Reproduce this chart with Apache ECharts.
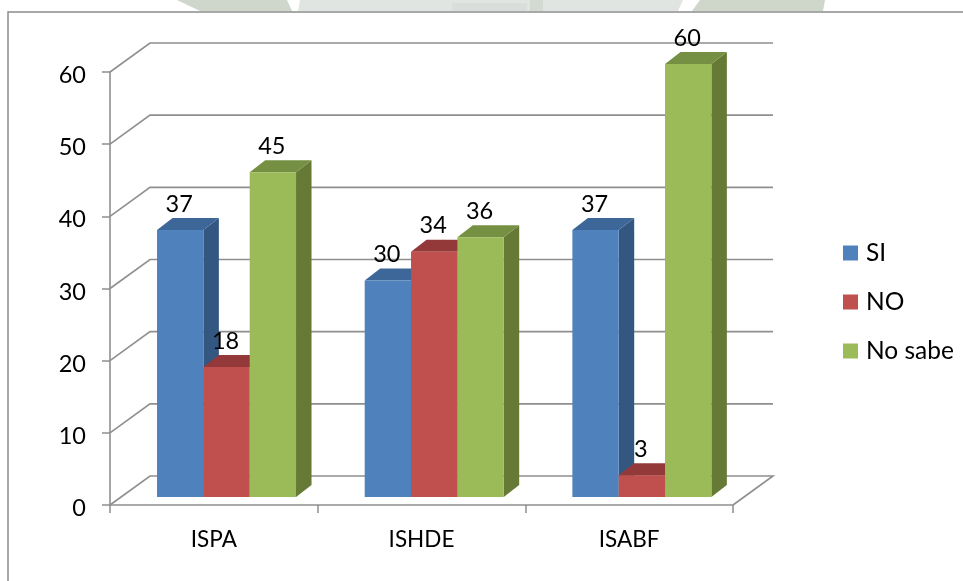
<!DOCTYPE html>
<html>
<head>
<meta charset="utf-8">
<style>html,body{margin:0;padding:0;background:#fff;}#c{width:963px;height:581px;}</style>
<script src="https://cdn.jsdelivr.net/npm/echarts@6/dist/echarts.min.js"></script>
</head>
<body>
<div id="c"></div>
<script>
var categories = ['ISPA', 'ISHDE', 'ISABF'];
var siValues = [37, 30, 37];
var noValues = [18, 34, 3];
var noSabeValues = [45, 36, 60];
var yTicks = [0, 10, 20, 30, 40, 50, 60];

var FONT = 'Lato, "Open Sans", sans-serif';
var GRID_COLOR = '#8f8f8f';
var WALL_DX = 40, WALL_DY = -29;
var PLANE_DX = 12.7, PLANE_DY = -8;
var BAR_DX = 15.5, BAR_DY = -12;
var BAR_RATIO = 46.33 / 207.67;

function barSeries(name, values, slot, front, top, side) {
  return {
    name: name,
    type: 'custom',
    coordinateSystem: 'cartesian2d',
    itemStyle: { color: front },
    encode: { x: 0, y: 1 },
    data: values.map(function (v, i) { return [i, v]; }),
    z: 5 + slot,
    renderItem: function (params, api) {
      var p = api.coord([api.value(0), api.value(1)]);
      var base = api.coord([api.value(0), 0]);
      var w = api.size([1, 0])[0] * BAR_RATIO;
      var x0 = p[0] + PLANE_DX + (slot - 1.5) * w;
      var x1 = x0 + w;
      var yT = p[1] + PLANE_DY, yB = base[1] + PLANE_DY;
      return {
        type: 'group',
        children: [
          { type: 'polygon', shape: { points: [[x1, yT], [x1 + BAR_DX, yT + BAR_DY], [x1 + BAR_DX, yB + BAR_DY], [x1, yB]] }, style: { fill: side } },
          { type: 'polygon', shape: { points: [[x0, yT], [x0 + BAR_DX, yT + BAR_DY], [x1 + BAR_DX, yT + BAR_DY], [x1, yT]] }, style: { fill: top } },
          { type: 'rect', shape: { x: x0, y: yT, width: w, height: yB - yT }, style: { fill: front } },
          { type: 'text', z2: 50, style: { text: String(api.value(1)), x: x0 + w / 2 - 1, y: yT - 26, fill: '#000', font: '23.5px ' + FONT, align: 'center', verticalAlign: 'middle' } }
        ]
      };
    }
  };
}

var wallSeries = {
  type: 'custom',
  coordinateSystem: 'cartesian2d',
  silent: true,
  z: 1,
  encode: { x: 0, y: 1 },
  data: yTicks.map(function (v) { return [0, v]; }),
  renderItem: function (params, api) {
    var v = api.value(1);
    var p = api.coord([0, v]);
    var band = api.size([1, 0])[0];
    var left = p[0] - band / 2;
    var right = left + band * categories.length;
    var pts = [[left, p[1]], [left + WALL_DX, p[1] + WALL_DY], [right + WALL_DX, p[1] + WALL_DY]];
    if (v === 0) pts.push([right, p[1]]);
    return { type: 'polyline', shape: { points: pts }, style: { stroke: GRID_COLOR, lineWidth: 1.6, fill: null } };
  }
};

function band(points, color) {
  return { type: 'polygon', silent: true, z: 0, shape: { points: points }, style: { fill: color } };
}

var chart = echarts.init(document.getElementById('c'), null, { renderer: 'canvas' });
chart.setOption({
  animation: false,
  backgroundColor: '#fff',
  grid: { left: 110, right: 230, top: 72, bottom: 76, containLabel: false },
  xAxis: {
    type: 'category',
    data: categories,
    axisLine: { lineStyle: { color: GRID_COLOR, width: 1.6 } },
    axisTick: { show: true, length: 8, lineStyle: { color: GRID_COLOR, width: 1.5 } },
    axisLabel: { color: '#000', fontFamily: FONT, fontSize: 22.5, margin: 23 },
    splitLine: { show: false }
  },
  yAxis: {
    type: 'value',
    min: 0,
    max: 60,
    interval: 10,
    axisLine: { show: true, lineStyle: { color: GRID_COLOR, width: 1.6 } },
    axisTick: { show: true, length: 8, lineStyle: { color: GRID_COLOR, width: 1.5 } },
    axisLabel: {
      margin: 24,
      formatter: '{v|{value}}',
      rich: { v: { color: '#000', fontFamily: FONT, fontSize: 23.5, padding: [7, 0, 0, 0] } }
    },
    splitLine: { show: false }
  },
  legend: {
    orient: 'vertical',
    left: 838,
    top: 235.5,
    itemWidth: 15,
    itemHeight: 15,
    itemGap: 24,
    icon: 'rect',
    data: ['SI', 'NO', 'No sabe'],
    textStyle: { color: '#000', fontFamily: FONT, fontSize: 24.5, padding: [0, 0, 0, 3] }
  },
  graphic: [
    band([[177, 0], [287, 0], [292, 11], [200, 11]], '#CFD6CC'),
    band([[300, 0], [683, 0], [678, 11], [298, 11]], '#E1E5E1'),
    band([[452, 3], [527, 3], [527, 11], [452, 11]], '#DADEDA'),
    band([[530, 0], [543, 0], [543, 11], [530, 11]], '#D3DAD2'),
    band([[700, 0], [825, 0], [823, 11], [692, 11]], '#CFD6CA'),
    { type: 'polyline', silent: true, z: 1, shape: { points: [[8, 581], [8, 12], [963, 12]] }, style: { stroke: '#8c8c8c', lineWidth: 1.5, fill: null } }
  ],
  series: [
    wallSeries,
    barSeries('SI', siValues, 0, '#4F81BD', '#3D6699', '#345781'),
    barSeries('NO', noValues, 1, '#C0504D', '#94393A', '#8A3634'),
    barSeries('No sabe', noSabeValues, 2, '#9BBB59', '#758F43', '#667A36')
  ]
});
</script>
</body>
</html>
